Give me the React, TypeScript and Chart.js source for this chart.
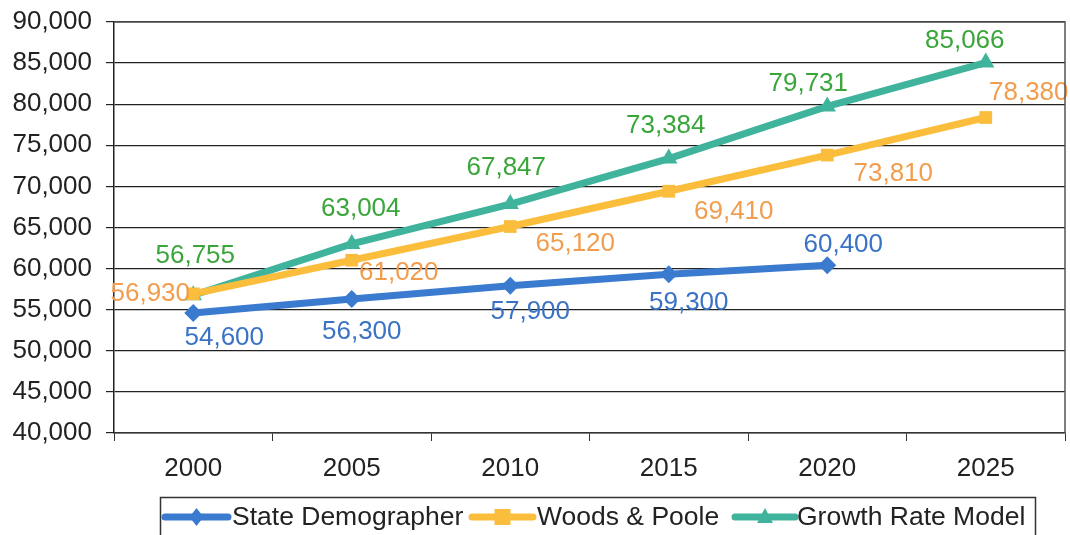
import React, { useEffect, useRef } from "react";
import { Chart, registerables } from "chart.js";

Chart.register(...registerables);

const years = ["2000", "2005", "2010", "2015", "2020", "2025"];
const stateDemographer = [54600, 56300, 57900, 59300, 60400, null];
const woodsPoole = [56930, 61020, 65120, 69410, 73810, 78380];
const growthRate = [56755, 63004, 67847, 73384, 79731, 85066];
const seriesNames = ["State Demographer", "Woods & Poole", "Growth Rate Model"];

const lineColors = ["#3a7bd0", "#fbbd3c", "#3fb39b"];
const labelColors = ["#3a73c6", "#f29d4e", "#3aa53a"];

// label offsets (dx, dy) relative to point for each series
const labelOffsets = [
  [[31, 25], [10, 33], [20, 26], [20, 28], [16, -20], [0, 0]],
  [[-43, 0], [47, 13], [65, 17], [65, 21], [66, 19], [43, -25]],
  [[2, -39], [9, -35], [-4, -36], [-3, -33], [-19, -23], [-21, -22]],
];

const fmt = (v: number) => v.toLocaleString("en-US");

const FONT = "'Liberation Sans', Arial, sans-serif";

const dataLabelPlugin = {
  id: "dataLabels",
  afterDatasetsDraw(chart: any) {
    const ctx = chart.ctx;
    ctx.save();
    ctx.font = `26px ${FONT}`;
    ctx.textAlign = "center";
    ctx.textBaseline = "middle";
    chart.data.datasets.forEach((ds: any, i: number) => {
      const meta = chart.getDatasetMeta(i);
      meta.data.forEach((pt: any, j: number) => {
        const v = ds.data[j];
        if (v == null) return;
        const [dx, dy] = labelOffsets[i][j];
        ctx.fillStyle = labelColors[i];
        ctx.fillText(fmt(v), pt.x + dx, pt.y + dy);
      });
    });
    ctx.restore();
  },
};

const frameLegendPlugin = {
  id: "frameLegend",
  afterDraw(chart: any) {
    const ctx = chart.ctx;
    const a = chart.chartArea;
    ctx.save();
    ctx.strokeStyle = "#555";
    ctx.lineWidth = 1.5;
    ctx.beginPath();
    ctx.moveTo(a.left, a.top);
    ctx.lineTo(a.right, a.top);
    ctx.lineTo(a.right, a.bottom);
    ctx.stroke();
    ctx.strokeStyle = "#333";
    ctx.lineWidth = 1.5;
    ctx.strokeRect(160.5, 497.5, 875, 45);
    const items = [
      { x: 165, w: 63, tx: 232, style: "rectRot" },
      { x: 472, w: 61, tx: 537, style: "rect" },
      { x: 735, w: 60, tx: 797, style: "triangle" },
    ];
    const y = 517;
    items.forEach((it, i) => {
      ctx.strokeStyle = lineColors[i];
      ctx.fillStyle = lineColors[i];
      ctx.lineWidth = 7;
      ctx.lineCap = "round";
      ctx.beginPath();
      ctx.moveTo(it.x, y);
      ctx.lineTo(it.x + it.w, y);
      ctx.stroke();
      const cx = it.x + it.w / 2;
      ctx.beginPath();
      if (it.style === "rectRot") {
        ctx.moveTo(cx, y - 9);
        ctx.lineTo(cx + 7, y);
        ctx.lineTo(cx, y + 9);
        ctx.lineTo(cx - 7, y);
      } else if (it.style === "rect") {
        ctx.rect(cx - 8, y - 8, 16, 16);
      } else {
        ctx.moveTo(cx, y - 9);
        ctx.lineTo(cx + 8, y + 6);
        ctx.lineTo(cx - 8, y + 6);
      }
      ctx.closePath();
      ctx.fill();
      ctx.fillStyle = "#222";
      ctx.font = `26.5px ${FONT}`;
      ctx.textAlign = "left";
      ctx.textBaseline = "middle";
      ctx.fillText(seriesNames[i], it.tx, y + 1);
    });
    ctx.restore();
  },
};

export default function App() {
  const ref = useRef<HTMLCanvasElement>(null);
  useEffect(() => {
    document.body.style.margin = "0";
    const chart = new Chart(ref.current!, {
      type: "line",
      data: {
        labels: years,
        datasets: [
          {
            label: seriesNames[0],
            data: stateDemographer,
            borderColor: lineColors[0],
            backgroundColor: lineColors[0],
            borderWidth: 7,
            pointStyle: "rectRot",
            pointRadius: 9,
            pointBorderWidth: 0,
          },
          {
            label: seriesNames[1],
            data: woodsPoole,
            borderColor: lineColors[1],
            backgroundColor: lineColors[1],
            borderWidth: 7,
            pointStyle: "rect",
            pointRadius: 9,
            pointBorderWidth: 0,
          },
          {
            label: seriesNames[2],
            data: growthRate,
            borderColor: lineColors[2],
            backgroundColor: lineColors[2],
            borderWidth: 7,
            pointStyle: "triangle",
            pointRadius: 10,
            pointBorderWidth: 0,
          },
        ],
      },
      options: {
        responsive: false,
        animation: false,
        layout: { autoPadding: false, padding: { top: 22, right: 5, bottom: 42, left: 0 } },
        plugins: { legend: { display: false }, tooltip: { enabled: false } },
        scales: {
          x: {
            offset: true,
            grid: {
              display: true,
              drawOnChartArea: false,
              drawTicks: true,
              tickLength: 8,
              color: "#333",
              offset: true,
            },
            border: { display: true, color: "#333", width: 1.5 },
            ticks: {
              color: "#222",
              font: { size: 26, family: FONT },
              padding: 12,
            },
            afterFit: (s: any) => {
              s.height = 60;
              s.paddingLeft = 0;
              s.paddingRight = 0;
            },
          },
          y: {
            min: 40000,
            max: 90000,
            ticks: {
              stepSize: 5000,
              color: "#222",
              font: { size: 26, family: FONT },
              padding: 14,
              callback: (v: any) => fmt(Number(v)),
            },
            grid: { color: "#222", lineWidth: 1.2, tickLength: 8 },
            border: { display: true, color: "#222", width: 1.5 },
            afterFit: (s: any) => {
              s.width = 114;
              s.paddingTop = 10;
              s.paddingBottom = 10;
            },
          },
        },
      },
      plugins: [dataLabelPlugin, frameLegendPlugin],
    });
    return () => chart.destroy();
  }, []);
  return <canvas ref={ref} width={1070} height={535} style={{ display: "block" }} />;
}
